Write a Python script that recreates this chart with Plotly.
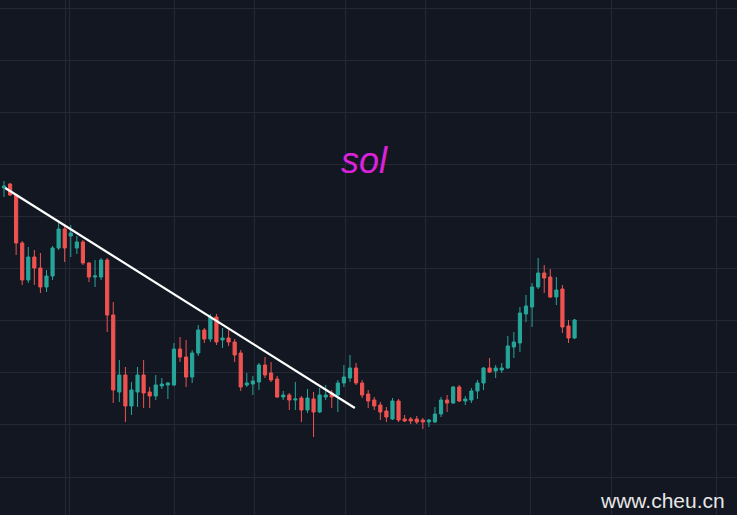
import plotly.graph_objects as go

# OHLC values (arbitrary price units)
opens = [327, 331, 320, 272, 235, 258, 247, 228, 239, 267,
         286, 279, 267, 273, 252, 238, 238, 255, 200, 123,
         140, 109, 123, 140, 123, 119, 129, 130, 130, 166,
         158, 138, 162, 185, 176, 198, 175, 177, 173, 162,
         130, 131, 133, 150, 142, 136, 118, 120, 115, 117,
         105, 116, 103, 118, 122, 120, 132, 137, 147, 132,
         121, 115, 110, 104, 96, 114, 96, 96, 96, 95,
         93, 93, 101, 115, 112, 128, 114, 115, 124, 132,
         147, 144, 145, 147, 168, 172, 201, 208, 228, 242,
         238, 218, 226, 189, 177]
highs = [334, 332, 321, 274, 268, 265, 262, 245, 269, 292,
         289, 290, 279, 275, 253, 255, 257, 257, 213, 155,
         148, 133, 148, 155, 128, 140, 137, 133, 172, 178,
         175, 165, 190, 187, 201, 201, 187, 185, 176, 165,
         142, 139, 152, 158, 153, 139, 124, 122, 133, 119,
         126, 123, 127, 130, 125, 135, 150, 160, 152, 135,
         125, 118, 113, 108, 117, 116, 100, 98, 99, 97,
         96, 108, 118, 120, 129, 130, 119, 127, 135, 148,
         157, 150, 152, 179, 183, 208, 220, 232, 257, 250,
         246, 238, 230, 195, 196]
lows = [318, 319, 260, 230, 232, 230, 222, 223, 235, 265,
        253, 258, 261, 250, 233, 228, 235, 183, 112, 113,
        93, 100, 108, 107, 107, 115, 126, 116, 129, 153,
        128, 132, 159, 172, 173, 170, 167, 169, 153, 124,
        128, 120, 125, 137, 133, 117, 115, 105, 105, 93,
        102, 78, 102, 115, 107, 103, 128, 133, 130, 117,
        107, 105, 95, 93, 95, 93, 93, 91, 91, 86,
        88, 92, 98, 103, 111, 113, 110, 112, 116, 125,
        142, 137, 142, 146, 157, 163, 193, 188, 226, 222,
        217, 210, 182, 172, 176]
closes = [329, 320, 272, 235, 258, 247, 228, 239, 267, 286,
          267, 282, 273, 252, 238, 239, 255, 200, 125, 140,
          109, 125, 140, 122, 119, 130, 131, 132, 166, 158,
          138, 162, 185, 176, 198, 173, 177, 173, 160, 128,
          132, 134, 150, 140, 135, 118, 120, 115, 116, 105,
          117, 103, 120, 120, 118, 132, 138, 147, 132, 120,
          114, 109, 103, 98, 114, 95, 94, 94, 93, 93,
          95, 101, 115, 112, 128, 114, 116, 124, 132, 147,
          143, 147, 147, 169, 173, 202, 209, 228, 242, 237,
          218, 225, 188, 177, 195]
bars = list(range(len(opens)))

# trend line endpoints (bar index, price)
trend_x = [0.2, 57.8]
trend_y = [327, 107]

title_text = "sol"
watermark = "www.cheu.cn"

# vertical grid positions (bar index units)
grid_x = [10.05, 10.71, 28.17, 41.35, 56.18, 69.36, 86.66, 100.16, 117.3]

BG = "#131722"
GRID = "#242835"
UP = "#26a69a"
DOWN = "#ef5350"

fig = go.Figure()
fig.add_trace(go.Candlestick(
    x=bars, open=opens, high=highs, low=lows, close=closes,
    increasing=dict(line=dict(color=UP, width=1), fillcolor=UP),
    decreasing=dict(line=dict(color=DOWN, width=1), fillcolor=DOWN),
    whiskerwidth=0, showlegend=False, hoverinfo="skip",
))
fig.add_trace(go.Scatter(
    x=trend_x, y=trend_y, mode="lines",
    line=dict(color="#ffffff", width=2.2), showlegend=False, hoverinfo="skip",
))

fig.update_layout(
    width=737, height=515,
    margin=dict(l=0, r=0, t=0, b=0),
    paper_bgcolor=BG, plot_bgcolor=BG,
    boxgap=0.25,
    xaxis=dict(range=[-0.659, 120.76], showticklabels=False, zeroline=False,
               rangeslider=dict(visible=False), tickmode="array", tickvals=grid_x,
               showgrid=True, gridcolor=GRID, gridwidth=1, ticks=""),
    yaxis=dict(range=[0, 515], showticklabels=False, zeroline=False,
               tick0=38, dtick=52.1, showgrid=True, gridcolor=GRID, gridwidth=1, ticks=""),
    annotations=[
        dict(text=title_text, x=0.495, y=0.689, xref="paper", yref="paper",
             showarrow=False, xanchor="center", yanchor="middle",
             font=dict(family="Liberation Sans, Arial, sans-serif", size=36,
                       color="#dd22dd", style="italic")),
        dict(text=watermark, x=0.987, y=0.029, xref="paper", yref="paper",
             showarrow=False, xanchor="right", yanchor="middle",
             font=dict(family="Liberation Sans, Arial, sans-serif", size=21,
                       color="#e6e6e6")),
    ],
)

fig.write_html("out.html", config={"displayModeBar": False},
               post_script="document.body.style.margin='0';document.body.style.overflow='hidden';document.body.style.background='#131722';")
